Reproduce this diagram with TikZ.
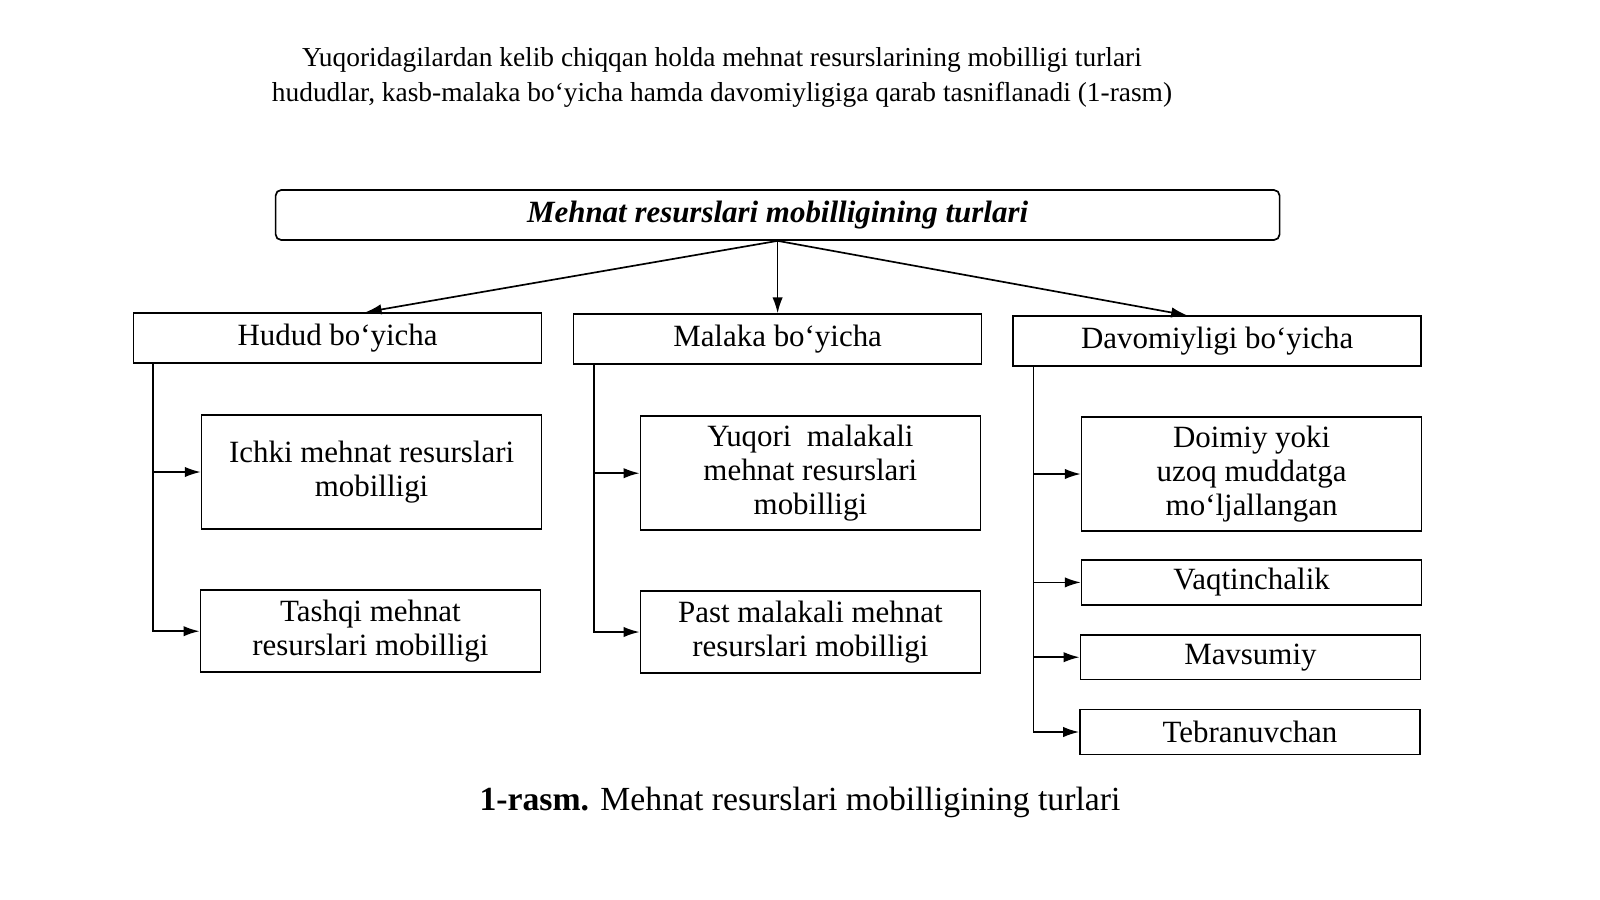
\documentclass[tikz,border=0pt]{standalone}
\usepackage{fontspec}
\setmainfont{Liberation Serif}
\usetikzlibrary{positioning,arrows.meta,calc}
\tikzstyle{topbox}=[rectangle, rounded corners=4pt, draw=black, very thick,
                    minimum width=25.1cm, minimum height=1.25cm, inner sep=2pt,
                    font=\fontsize{22}{26}\selectfont\bfseries\itshape]
\tikzstyle{gbox}=[rectangle, draw=black, very thick, minimum width=10.2cm,
                  minimum height=1.25cm, inner sep=2pt, text centered,
                  font=\fontsize{22}{26}\selectfont]
\tikzstyle{lbox}=[rectangle, draw=black, very thick, minimum width=8.5cm,
                  inner sep=2pt, align=center,
                  font=\fontsize{22}{24}\selectfont]
\tikzstyle{pline}=[-{Latex[length=4mm,width=2.6mm]}, very thick]
\begin{document}
\begin{tikzpicture}
\useasboundingbox (0,0) rectangle (40,-22.475);

\node (HEAD) [align=center, font=\fontsize{19.5}{25}\selectfont] at (18.05,-1.93)
 {Yuqoridagilardan kelib chiqqan holda mehnat resurslarining mobilligi turlari\\
  hududlar, kasb-malaka bo‘yicha hamda davomiyligiga qarab tasniflanadi (1-rasm)};

\node (MRM) [topbox] at (19.44,-5.375) {Mehnat resurslari mobilligining turlari};

\node (HUD) [gbox] at (8.44,-8.45) {Hudud bo‘yicha};
\node (MAL) [gbox] at (19.44,-8.48) {Malaka bo‘yicha};
\node (DAV) [gbox] at (30.43,-8.53) {Davomiyligi bo‘yicha};

\node (ICHKI) [lbox, minimum height=2.85cm] at (9.29,-11.8) {Ichki mehnat resurslari\\ mobilligi};
\node (TASHQI) [lbox, minimum height=2.05cm] at (9.26,-15.78) {Tashqi mehnat\\ resurslari mobilligi};
\node (YUQORI) [lbox, minimum height=2.85cm] at (20.26,-11.83) {Yuqori\ \ malakali\\ mehnat resurslari\\ mobilligi};
\node (PAST) [lbox, minimum height=2.05cm] at (20.26,-15.8) {Past malakali mehnat\\ resurslari mobilligi};
\node (DOIMIY) [lbox, minimum height=2.85cm] at (31.29,-11.85) {Doimiy yoki\\ uzoq muddatga\\ mo‘ljallangan};
\node (VAQT) [lbox, minimum height=1.12cm] at (31.29,-14.56) {Vaqtinchalik};
\node (MAVS) [lbox, minimum height=1.12cm] at (31.26,-16.43) {Mavsumiy};
\node (TEBR) [lbox, minimum height=1.12cm] at (31.25,-18.3) {Tebranuvchan};

\node (CAP) [font=\fontsize{24}{28}\selectfont] at (20,-20.05)
 {\textbf{1-rasm.} Mehnat resurslari mobilligining turlari};

% top level arrows
\draw[pline] (MRM.south) -- ($(HUD.north)+(0.7,0)$);
\draw[pline] (MRM.south) -- (MAL.north);
\draw[pline] (MRM.south) -- ($(DAV.north)+(-0.75,0)$);

% branches
\draw[pline] ($(HUD.south west)+(0.5,0)$) |- (ICHKI.west);
\draw[pline] ($(HUD.south west)+(0.5,0)$) |- (TASHQI.west);
\draw[pline] ($(MAL.south west)+(0.53,0)$) |- (YUQORI.west);
\draw[pline] ($(MAL.south west)+(0.53,0)$) |- (PAST.west);
\draw[pline] ($(DAV.south west)+(0.53,0)$) |- (DOIMIY.west);
\draw[pline] ($(DAV.south west)+(0.53,0)$) |- (VAQT.west);
\draw[pline] ($(DAV.south west)+(0.53,0)$) |- (MAVS.west);
\draw[pline] ($(DAV.south west)+(0.53,0)$) |- (TEBR.west);

\end{tikzpicture}
\end{document}
